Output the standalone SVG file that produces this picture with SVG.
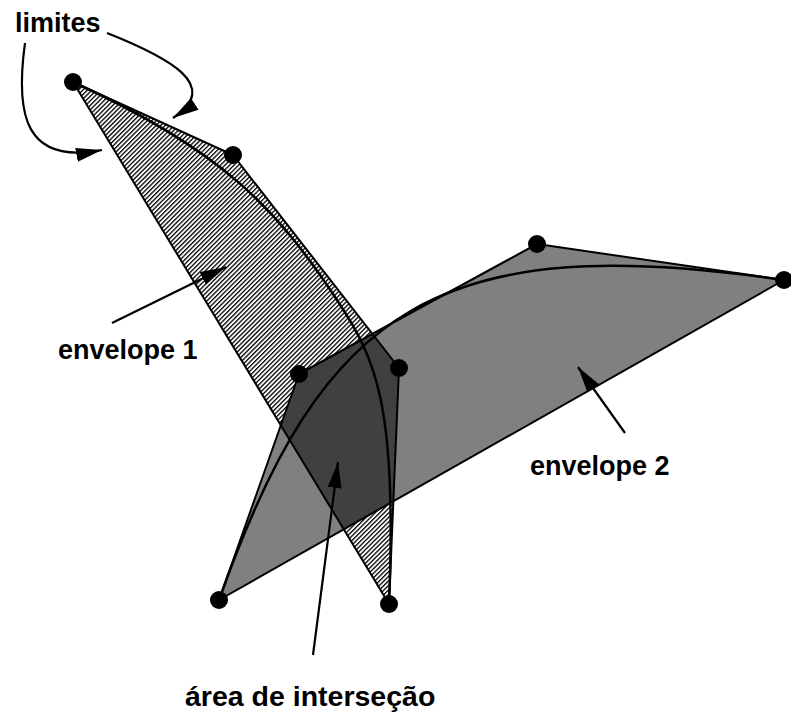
<svg xmlns="http://www.w3.org/2000/svg" width="791" height="713" viewBox="0 0 791 713">
<defs>
  <pattern id="hatch" patternUnits="userSpaceOnUse" width="3.2" height="10" patternTransform="rotate(45)">
    <rect x="0" y="0" width="3.2" height="10" fill="#ffffff"/>
    <rect x="0" y="0" width="1.3" height="10" fill="#000000"/>
  </pattern>
  <clipPath id="clipP">
    <polygon points="73,82 233,155 399,368 389,604"/>
  </clipPath>
  <marker id="arr" markerUnits="userSpaceOnUse" markerWidth="28" markerHeight="16" refX="26" refY="7" orient="auto">
    <path d="M0,0 L26,7 L0,14 Z" fill="#000"/>
  </marker>
  <style>
    .edge{fill:none;stroke:#000;stroke-width:2;stroke-linejoin:round}
    .curve{fill:none;stroke:#000;stroke-width:2.5}
    .dot{fill:#000}
    .arrow{fill:none;stroke:#000;stroke-width:2.2;marker-end:url(#arr)}
    .lbl{font-family:"Liberation Sans",Arial,sans-serif;font-weight:bold;font-size:27px;fill:#000}
  </style>
</defs>
<g id="envelope1-fill">
  <polygon points="73,82 233,155 399,368 389,604" fill="url(#hatch)"/>
</g>
<g id="envelope2-fill">
  <polygon points="219,600 299,374 537,244 784,280" fill="#808080"/>
</g>
<g id="intersection">
  <polygon points="219,600 299,374 537,244 784,280" fill="#404040" clip-path="url(#clipP)"/>
</g>
<g id="envelope1">
  <polygon class="edge" points="73,82 233,155 399,368 389,604"/>
  <path class="curve" d="M73,82 C222,150 276.5,208.2 337,300 C375.5,358.5 397.4,404 389,604"/>
  <circle class="dot" cx="73" cy="82" r="9"/>
  <circle class="dot" cx="233" cy="155" r="9"/>
  <circle class="dot" cx="399" cy="368" r="9"/>
  <circle class="dot" cx="389" cy="604" r="9"/>
</g>
<g id="envelope2">
  <polygon class="edge" points="219,600 299,374 537,244 784,280"/>
  <path class="curve" d="M219,600 C323,306 438,230 784,280"/>
  <circle class="dot" cx="219" cy="600" r="9"/>
  <circle class="dot" cx="299" cy="374" r="9"/>
  <circle class="dot" cx="537" cy="244" r="9"/>
  <circle class="dot" cx="784" cy="280" r="9"/>
</g>
<g id="connectors">
  <path class="arrow" d="M107,33 C170,58 222,86 173,118"/>
  <path class="arrow" d="M25,43 C15,115 25,165 102,150"/>
  <path class="arrow" d="M112,323 L226,267"/>
  <path class="arrow" d="M625,433 L578,367"/>
  <path class="arrow" d="M313,655 L338,462"/>
</g>
<g id="labels">
  <text class="lbl" x="15" y="32">limites</text>
  <text class="lbl" x="58" y="359">envelope 1</text>
  <text class="lbl" x="530" y="475">envelope 2</text>
  <text class="lbl" x="185" y="706" style="font-size:28.5px">área de interseção</text>
</g>
</svg>
